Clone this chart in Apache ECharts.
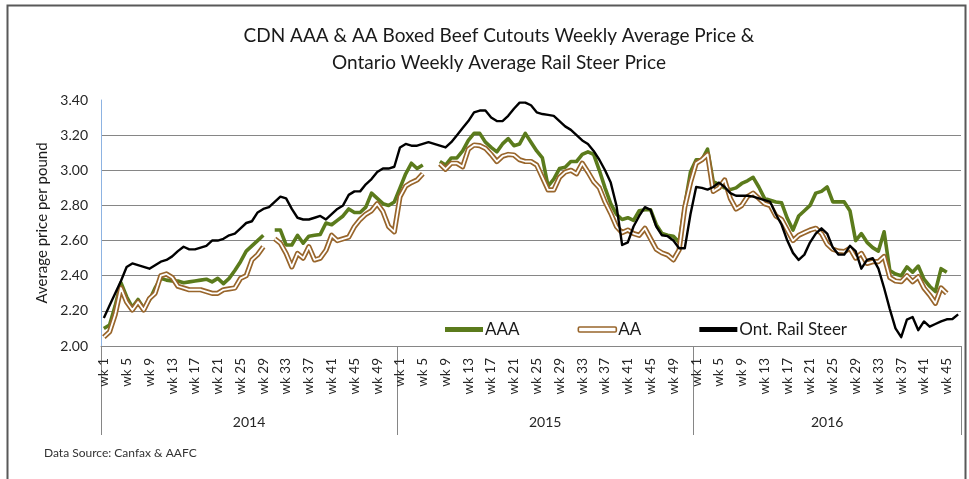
<!DOCTYPE html>
<html>
<head>
<meta charset="utf-8">
<script src="https://cdn.jsdelivr.net/npm/echarts@6/dist/echarts.min.js"></script>
<style>
html,body{margin:0;padding:0;background:#fff;}
#chart{width:969px;height:479px;}
</style>
</head>
<body>
<div id="chart"></div>
<script>
// ---- data ----
const years = ['2014', '2015', '2016'];
const weeksPerYear = [52, 52, 47];
const tickLabelEvery = 4;
const yTicks = { min: 2.0, max: 3.4, interval: 0.2 };

const aaa2014 = [2.10,2.12,2.23,2.36,2.28,2.22,2.265,2.215,2.26,2.33,
  2.385,2.375,2.37,2.37,2.36,2.365,2.37,2.375,2.38,2.365,
  2.385,2.355,2.385,2.43,2.48,2.54,2.57,2.60,2.63,null,
  2.66,2.66,2.575,2.575,2.63,2.585,2.625,2.63,2.635,2.70,
  2.69,2.715,2.74,2.78,2.76,2.76,2.79,2.87,2.84,2.81,
  2.80,2.82];
const aaa2015 = [2.90,2.98,3.04,3.01,3.03,null,null,3.05,3.03,3.07,
  3.07,3.11,3.17,3.21,3.21,3.16,3.13,3.105,3.15,3.18,
  3.14,3.15,3.21,3.16,3.11,3.07,2.91,2.95,3.01,3.017,
  3.05,3.05,3.09,3.105,3.09,3.00,2.90,2.81,2.75,2.72,
  2.73,2.715,2.77,2.775,2.775,2.69,2.64,2.63,2.625,2.59,
  2.80,2.99];
const aaa2016 = [3.06,3.06,3.12,2.935,2.92,2.90,2.89,2.90,2.925,2.94,
  2.96,2.905,2.84,2.83,2.82,2.815,2.727,2.66,2.74,2.77,
  2.80,2.87,2.88,2.905,2.82,2.82,2.82,2.77,2.60,2.64,
  2.59,2.56,2.54,2.65,2.43,2.41,2.40,2.45,2.42,2.455,
  2.38,2.34,2.31,2.44,2.42];

const aa2014 = [2.05,2.08,2.18,2.33,2.25,2.205,2.25,2.205,2.27,2.30,
  2.40,2.41,2.39,2.34,2.33,2.32,2.32,2.32,2.31,2.30,
  2.30,2.32,2.325,2.33,2.385,2.40,2.49,2.52,2.565,null,
  2.61,2.585,2.527,2.45,2.527,2.50,2.565,2.49,2.50,2.545,
  2.63,2.60,2.61,2.62,2.68,2.72,2.75,2.77,2.81,2.765,
  2.68,2.65];
const aa2015 = [2.85,2.91,2.93,2.945,2.98,null,null,3.036,3.006,3.04,
  3.04,3.02,3.12,3.144,3.14,3.125,3.09,3.05,3.08,3.09,
  3.087,3.06,3.05,3.05,3.03,2.96,2.888,2.888,2.96,2.99,
  3.00,2.98,3.04,2.99,2.935,2.90,2.82,2.755,2.68,2.645,
  2.66,2.64,2.63,2.67,2.61,2.55,2.53,2.518,2.49,2.546,
  2.79,2.93];
const aa2016 = [3.04,3.06,3.09,2.88,2.90,2.945,2.84,2.78,2.80,2.85,
  2.87,2.84,2.81,2.80,2.74,2.72,2.66,2.60,2.63,2.645,
  2.66,2.67,2.64,2.58,2.55,2.54,2.537,2.556,2.50,2.527,
  2.47,2.48,2.48,2.51,2.39,2.37,2.366,2.40,2.366,2.394,
  2.33,2.29,2.243,2.33,2.30];

const rail2014 = [2.16,2.23,2.30,2.37,2.45,2.47,2.46,2.45,2.44,2.46,
  2.48,2.49,2.51,2.54,2.565,2.55,2.55,2.56,2.57,2.60,
  2.60,2.61,2.63,2.64,2.67,2.70,2.71,2.76,2.78,2.79,
  2.82,2.85,2.84,2.78,2.73,2.72,2.72,2.73,2.74,2.72,
  2.75,2.78,2.80,2.86,2.88,2.88,2.92,2.95,2.99,3.01,
  3.01,3.02];
const rail2015 = [3.13,3.15,3.14,3.14,3.15,3.16,3.15,3.14,3.13,3.16,
  3.20,3.24,3.28,3.33,3.34,3.34,3.30,3.28,3.28,3.31,
  3.35,3.385,3.385,3.37,3.33,3.32,3.315,3.31,3.28,3.25,
  3.23,3.20,3.17,3.15,3.11,3.06,3.00,2.93,2.80,2.575,
  2.59,2.68,2.74,2.79,2.775,2.68,2.63,2.625,2.60,2.556,
  2.556,2.75];
const rail2016 = [2.905,2.90,2.89,2.905,2.93,2.905,2.87,2.855,2.855,2.855,
  2.85,2.84,2.83,2.82,2.75,2.69,2.60,2.53,2.49,2.52,
  2.59,2.64,2.67,2.64,2.56,2.52,2.52,2.57,2.54,2.44,
  2.49,2.50,2.44,2.33,2.21,2.10,2.05,2.15,2.165,2.09,
  2.14,2.11,2.125,2.14,2.152,2.154,2.18];

const seriesNames = ['AAA', 'AA', 'Ont. Rail Steer'];
const titleLines = ['CDN AAA & AA Boxed Beef Cutouts Weekly Average Price &', 'Ontario Weekly Average Rail Steer Price'];
const yAxisTitle = 'Average price per pound';
const sourceNote = 'Data Source: Canfax & AAFC';

// ---- build ----
const categories = [];
const weekNo = [];
weeksPerYear.forEach(function (n) {
  for (let w = 1; w <= n; w++) { categories.push('wk ' + w); weekNo.push(w); }
});
const aaa = aaa2014.concat(aaa2015, aaa2016);
const aa = aa2014.concat(aa2015, aa2016);
const rail = rail2014.concat(rail2015, rail2016);

const FONT = 'Lato, "Open Sans", sans-serif';
const GREEN = '#5b7b1c';
const BROWN = '#98652b';

const chart = echarts.init(document.getElementById('chart'), null, { renderer: 'canvas' });

const option = {
  animation: false,
  backgroundColor: '#fff',
  textStyle: { fontFamily: FONT },
  title: {
    text: titleLines.join('\n'),
    left: 494,
    textAlign: 'center',
    top: 17,
    textStyle: { fontFamily: FONT, fontSize: 19, fontWeight: 'normal', color: '#1a1a1a', lineHeight: 27 }
  },
  grid: { left: 101, right: 8, top: 100, bottom: 133, containLabel: false },
  legend: {
    left: 440,
    top: 316,
    itemWidth: 38,
    itemHeight: 5,
    itemGap: 58,
    textStyle: { fontFamily: FONT, fontSize: 17, color: '#1a1a1a', padding: [0, 0, 0, -3] },
    data: [
      { name: seriesNames[0], icon: 'rect', itemStyle: { color: GREEN } },
      { name: seriesNames[1], icon: 'roundRect', itemStyle: { color: '#fff', borderColor: BROWN, borderWidth: 1.6 } },
      { name: seriesNames[2], icon: 'rect', itemStyle: { color: '#000' } }
    ]
  },
  xAxis: {
    type: 'category',
    data: categories,
    boundaryGap: true,
    axisLine: { lineStyle: { color: '#868686', width: 1 } },
    axisTick: { show: false },
    axisLabel: {
      interval: function (i) { return (weekNo[i] - 1) % tickLabelEvery === 0; },
      rotate: 90,
      margin: 12,
      fontSize: 13.5,
      color: '#262626',
      fontFamily: FONT
    },
    splitLine: { show: false }
  },
  yAxis: {
    type: 'value',
    min: yTicks.min,
    max: yTicks.max,
    interval: yTicks.interval,
    name: yAxisTitle,
    nameLocation: 'middle',
    nameGap: 50,
    nameTextStyle: { fontFamily: FONT, fontSize: 15, color: '#1a1a1a' },
    axisLine: { show: true, lineStyle: { color: '#8db3e2', width: 1 } },
    axisTick: { show: false },
    axisLabel: {
      formatter: function (v) { return v.toFixed(2); },
      fontSize: 14,
      color: '#262626',
      margin: 13,
      fontFamily: FONT
    },
    splitLine: { show: true, showMaxLine: false, showMinLine: false, lineStyle: { color: '#868686', width: 1 } }
  },
  series: [
    {
      name: seriesNames[0], type: 'line', data: aaa, showSymbol: false, connectNulls: false,
      lineStyle: { color: GREEN, width: 3.6, join: 'round' }, itemStyle: { color: GREEN }, z: 2
    },
    {
      name: seriesNames[1], type: 'line', data: aa, showSymbol: false, connectNulls: false,
      lineStyle: { color: BROWN, width: 5.2, join: 'round' }, itemStyle: { color: BROWN }, z: 3
    },
    {
      name: 'AA-inner', type: 'line', data: aa, showSymbol: false, connectNulls: false, silent: true,
      lineStyle: { color: '#ffffff', width: 1.8, join: 'round' }, itemStyle: { color: '#fff' }, z: 4
    },
    {
      name: seriesNames[2], type: 'line', data: rail, showSymbol: false, connectNulls: false,
      lineStyle: { color: '#000', width: 2.4, join: 'round' }, itemStyle: { color: '#000' }, z: 5
    }
  ]
};
chart.setOption(option);

// year group dividers and labels under the axis, placed from axis coordinates
const p0 = chart.convertToPixel({ xAxisIndex: 0 }, 0);
const p1 = chart.convertToPixel({ xAxisIndex: 0 }, 1);
const band = p1 - p0;
const axisY = chart.convertToPixel({ yAxisIndex: 0 }, yTicks.min);
const boxBottom = axisY + 89;
const graphics = [];
let start = 0;
const bounds = [p0 - band / 2];
weeksPerYear.forEach(function (n, k) {
  const xs = p0 - band / 2 + start * band;
  const xe = xs + n * band;
  bounds.push(xe);
  graphics.push({
    type: 'text', silent: true,
    style: { text: years[k], x: (xs + xe) / 2, y: axisY + 76, textAlign: 'center', textVerticalAlign: 'middle',
      font: '14px ' + FONT, fill: '#262626' }
  });
  start += n;
});
bounds.forEach(function (bx) {
  graphics.push({
    type: 'line', silent: true,
    shape: { x1: Math.round(bx) + 0.5, y1: axisY, x2: Math.round(bx) + 0.5, y2: boxBottom },
    style: { stroke: '#868686', lineWidth: 1 }
  });
});
graphics.push({
  type: 'text', silent: true,
  style: { text: sourceNote, x: 44, y: 453, textVerticalAlign: 'middle', font: '12px ' + FONT, fill: '#333' }
});
graphics.push({
  type: 'rect', silent: true,
  shape: { x: 7.5, y: 5.5, width: 958, height: 520 },
  style: { fill: 'none', stroke: '#595959', lineWidth: 2 }
});
chart.setOption({ graphic: graphics });
</script>
</body>
</html>
